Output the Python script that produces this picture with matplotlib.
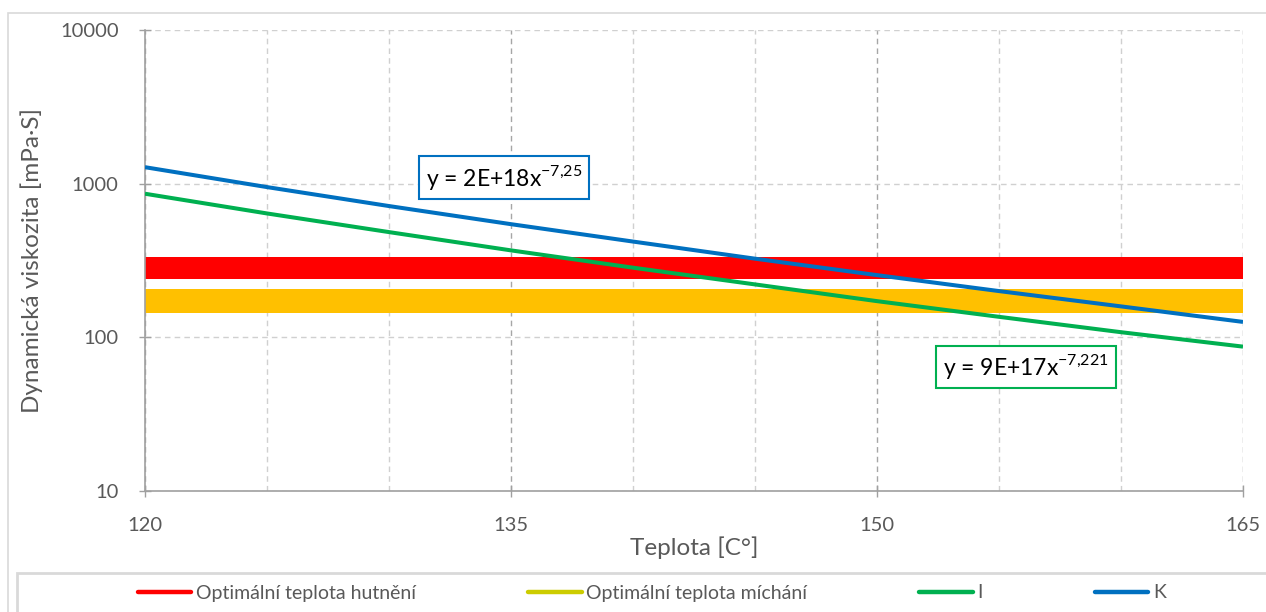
import matplotlib
matplotlib.use("Agg")
from matplotlib import pyplot as plt
from matplotlib.lines import Line2D
from matplotlib.patches import Rectangle
from matplotlib.ticker import FixedLocator, FixedFormatter, NullFormatter, NullLocator

plt.rcParams["font.family"] = ["Lato", "DejaVu Sans"]
plt.rcParams["mathtext.fontset"] = "custom"
plt.rcParams["mathtext.rm"] = "Lato"

# temperature [°C] and dynamic viscosity [mPa.s] of both binders
teplota = [120, 125, 130, 135, 140, 145, 150, 155, 160, 165]
visk_I = [860, 640, 484, 368, 284, 221, 172, 136, 108, 87]
visk_K = [1280, 950, 715, 545, 420, 325, 254, 200, 159, 126]

# viscosity ranges for compaction and mixing
hutneni = (239, 335)
michani = (144, 206)

rovnice_K = "y = 2E+18x$^{\\mathregular{-7{,}25}}$"
rovnice_I = "y = 9E+17x$^{\\mathregular{-7{,}221}}$"

seda = "#595959"
cervena = "#ff0000"
zluta = "#ffc000"
zluta_leg = "#cccc00"
zelena = "#00b050"
modra = "#0070c0"

fig = plt.figure(figsize=(12.66, 6.12), dpi=100)
ax = fig.add_axes([145 / 1266, 121 / 612, 1098 / 1266, 461 / 612])

ax.axhspan(*hutneni, color=cervena, lw=0, zorder=2)
ax.axhspan(*michani, color=zluta, lw=0, zorder=2)
ax.plot(teplota, visk_I, color=zelena, lw=2.9, zorder=3, solid_capstyle="butt")
ax.plot(teplota, visk_K, color=modra, lw=2.9, zorder=3, solid_capstyle="butt")

ax.set_yscale("log")
ax.set_xlim(120, 165)
ax.set_ylim(10, 10000)

ax.xaxis.set_major_locator(FixedLocator([120, 135, 150, 165]))
ax.xaxis.set_minor_locator(FixedLocator([125, 130, 140, 145, 155, 160]))
ax.yaxis.set_major_locator(FixedLocator([10, 100, 1000, 10000]))
ax.yaxis.set_minor_locator(NullLocator())
ax.yaxis.set_major_formatter(FixedFormatter(["10", "100", "1000", "10000"]))
ax.xaxis.set_minor_formatter(NullFormatter())

ax.grid(True, which="major", axis="x", color="#a6a6a6", ls=(0, (4, 3)), lw=1.0, zorder=0)
ax.grid(True, which="minor", axis="x", color="#d0d0d0", ls=(0, (4, 3)), lw=1.0, zorder=0)
ax.grid(True, which="major", axis="y", color="#d0d0d0", ls=(0, (4, 3)), lw=1.0, zorder=0)

for s in ["top", "right"]:
    ax.spines[s].set_visible(False)
for s in ["left", "bottom"]:
    ax.spines[s].set_color("#a0a0a0")
    ax.spines[s].set_linewidth(1.2)

ax.tick_params(axis="both", which="major", direction="inout", length=9, width=1.0,
               color="#a0a0a0", labelsize=14.5, labelcolor=seda)
ax.tick_params(axis="x", which="major", pad=14)
ax.tick_params(axis="y", which="major", pad=14.5)
ax.tick_params(axis="x", which="minor", length=0)

ax.set_xlabel("Teplota [C°]", fontsize=17.5, color=seda, labelpad=2)
ax.set_ylabel("Dynamická viskozita [mPa·S]", fontsize=17.5, color=seda, labelpad=12)

ax.text(0.327, 0.680, rovnice_K, transform=ax.transAxes, ha="center", va="center",
        fontsize=16.5, color="#000000", zorder=5,
        bbox=dict(boxstyle="square,pad=0.3", fc="white", ec=modra, lw=1.5))
ax.text(0.8024, 0.269, rovnice_I, transform=ax.transAxes, ha="center", va="center",
        fontsize=16.5, color="#000000", zorder=5,
        bbox=dict(boxstyle="square,pad=0.3", fc="white", ec=zelena, lw=1.5))

# chart area border and legend box
fig.patches.append(Rectangle((8 / 1266, -0.1), 1.1, (612 - 13) / 612 + 0.1,
                             transform=fig.transFigure, fill=False, ec="#d9d9d9", lw=1.2))
fig.patches.append(Rectangle((17 / 1266, -0.1), 1.1, (612 - 573) / 612 + 0.1,
                             transform=fig.transFigure, fill=False, ec="#d9d9d9", lw=2))

handles = [
    Line2D([], [], color=cervena, lw=3.2, solid_capstyle="round"),
    Line2D([], [], color=zluta_leg, lw=3.2, solid_capstyle="round"),
    Line2D([], [], color=zelena, lw=3.2, solid_capstyle="round"),
    Line2D([], [], color=modra, lw=3.2, solid_capstyle="round"),
]
labels = ["Optimální teplota hutnění", "Optimální teplota míchání", "I", "K"]
leg = fig.legend(handles, labels, ncol=4, loc="center", bbox_to_anchor=(652 / 1266, 1 - 593 / 612),
                 frameon=False, fontsize=14, handlelength=2.75, handletextpad=0.25,
                 columnspacing=5.75, borderaxespad=0)
for t in leg.get_texts():
    t.set_color(seda)

fig.savefig("out.png", dpi=100)
